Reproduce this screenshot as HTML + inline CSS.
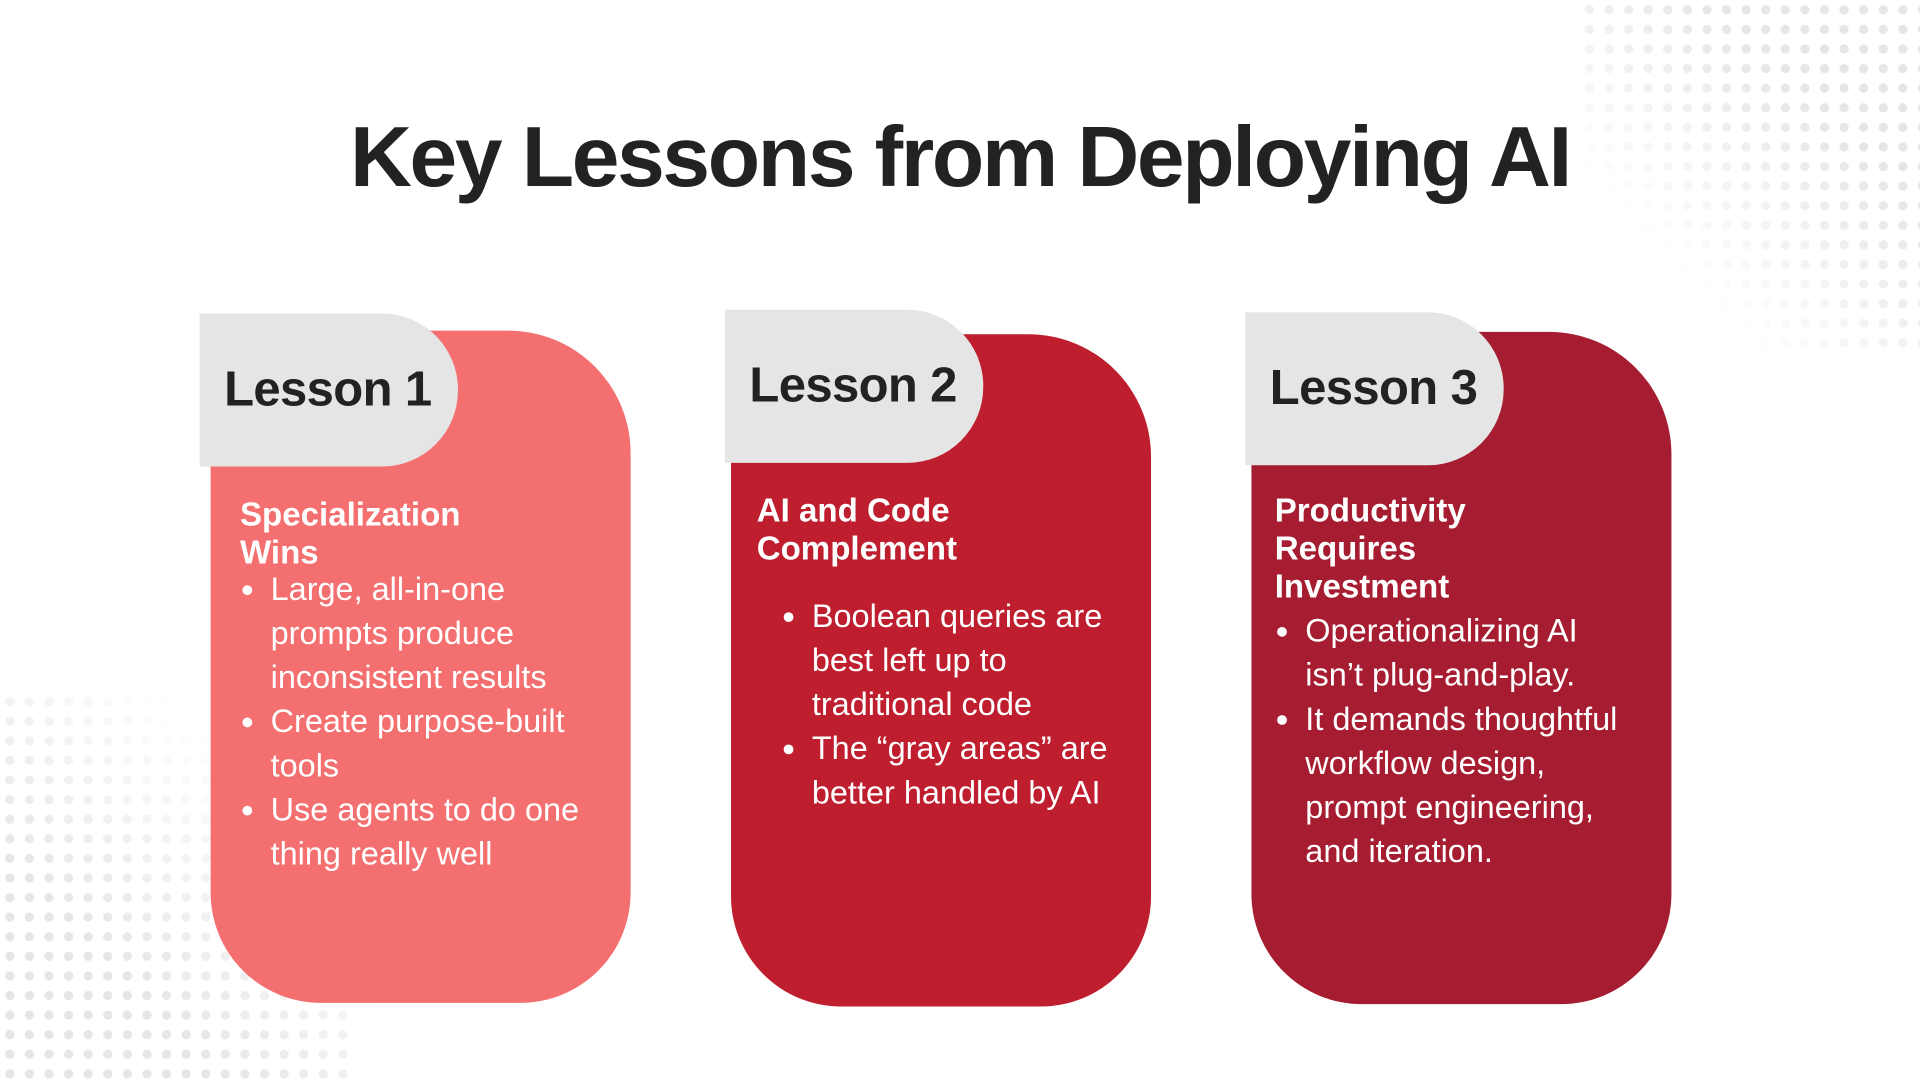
<!DOCTYPE html>
<html><head><style>
html,body{margin:0;padding:0;width:1920px;height:1080px;overflow:hidden;background:#fff}
#s{position:absolute;left:0;top:0;width:1568px;height:882px;transform:scale(1.22449);transform-origin:0 0;font-family:"Liberation Sans",sans-serif}
.dots{position:absolute;background-image:radial-gradient(circle,#e6e6e6 3.5px,transparent 4px);background-size:16px 16px}
.card{position:absolute;width:343px;height:549px;border-radius:0 100px 90px 90px}
.tab{position:absolute;width:211px;height:125px;background:#e5e5e5;border-radius:0 62px 62px 0}
.tab span{position:absolute;left:20px;top:40px;font-size:40px;font-weight:bold;color:#222;letter-spacing:-0.5px;white-space:nowrap}
.h{position:absolute;color:#fff;font-weight:bold;font-size:27px;line-height:31px;white-space:nowrap}
ul{position:absolute;margin:0;padding:0 0 0 25px;color:#fff;font-size:26.5px;line-height:36px;white-space:nowrap}
li{padding-left:0}
</style></head><body><div id="s">
<div class="dots" style="left:1290px;top:0;width:278px;height:290px;-webkit-mask-image:linear-gradient(225deg,#000 30%,transparent 75%);mask-image:linear-gradient(225deg,#000 30%,transparent 75%)"></div>
<div class="dots" style="left:0;top:565px;width:290px;height:317px;-webkit-mask-image:linear-gradient(45deg,#000 30%,transparent 75%);mask-image:linear-gradient(45deg,#000 30%,transparent 75%)"></div>
<div style="position:absolute;left:0;width:1568px;top:88px;text-align:center;font-size:70px;font-weight:bold;color:#222;letter-spacing:-1.9px;white-space:nowrap">Key Lessons from Deploying AI</div>

<div class="card" style="left:172px;top:270px;background:#f46f6f"></div>
<div class="tab" style="left:163px;top:256px"><span>Lesson 1</span></div>
<div class="h" style="left:196px;top:405px">Specialization<br>Wins</div>
<ul style="left:196px;top:463px"><li>Large, all-in-one<br>prompts produce<br>inconsistent results</li><li>Create purpose-built<br>tools</li><li>Use agents to do one<br>thing really well</li></ul>

<div class="card" style="left:597px;top:273px;background:#be1e2d"></div>
<div class="tab" style="left:592px;top:253px"><span>Lesson 2</span></div>
<div class="h" style="left:618px;top:402px">AI and Code<br>Complement</div>
<ul style="left:638px;top:485px"><li>Boolean queries are<br>best left up to<br>traditional code</li><li>The “gray areas” are<br>better handled by AI</li></ul>

<div class="card" style="left:1022px;top:271px;background:#a61c30"></div>
<div class="tab" style="left:1017px;top:255px"><span>Lesson 3</span></div>
<div class="h" style="left:1041px;top:402px">Productivity<br>Requires<br>Investment</div>
<ul style="left:1041px;top:497px"><li>Operationalizing AI<br>isn’t plug-and-play.</li><li>It demands thoughtful<br>workflow design,<br>prompt engineering,<br>and iteration.</li></ul>
</div></body></html>
